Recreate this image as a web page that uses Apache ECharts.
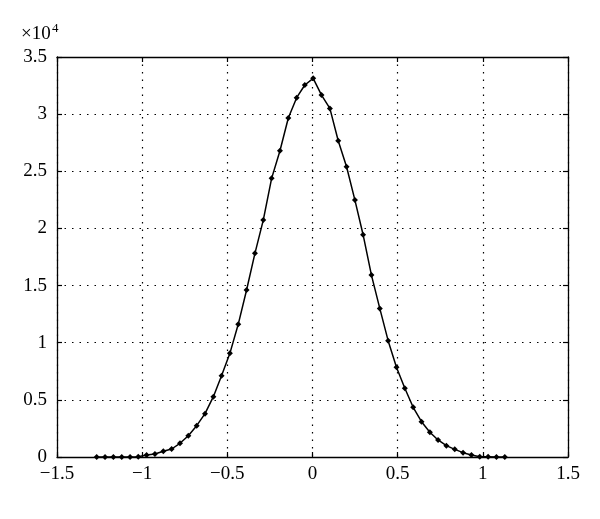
<!DOCTYPE html>
<html>
<head>
<meta charset="utf-8">
<script src="https://cdn.jsdelivr.net/npm/echarts@6/dist/echarts.min.js"></script>
<style>html,body{margin:0;padding:0;background:#fff}#c{width:600px;height:519px}</style>
</head>
<body>
<div id="c"></div>
<script>
// x positions of the points
const xValues = [-1.267,-1.218,-1.169,-1.120,-1.071,-1.023,-0.974,-0.925,-0.876,-0.827,
  -0.778,-0.729,-0.680,-0.631,-0.582,-0.534,-0.485,-0.436,-0.387,-0.338,
  -0.289,-0.240,-0.191,-0.142,-0.093,-0.045,0.004,0.053,0.102,0.151,
  0.200,0.249,0.297,0.346,0.395,0.444,0.493,0.542,0.591,0.640,
  0.689,0.737,0.786,0.835,0.884,0.933,0.982,1.031,1.080,1.129];
// counts (raw values)
const yValues = [0,0,0,0,0,30,180,260,500,700,
  1200,1860,2740,3790,5280,7110,9070,11610,14610,17820,
  20730,24380,26800,29660,31440,32550,33130,31670,30500,27670,
  25400,22480,19450,15920,13000,10180,7850,6010,4350,3090,
  2160,1490,990,670,380,180,30,30,0,0];
const xTicks = [-1.5,-1,-0.5,0,0.5,1,1.5];
const yTicks = [0,0.5,1,1.5,2,2.5,3,3.5];
const yScale = 1e4;

const font = '"Liberation Serif", "DejaVu Serif", serif';
const chart = echarts.init(document.getElementById('c'), null, {renderer:'canvas'});
const fmtMinus = v => String(v).replace('-', '\u2212');
const grid = {left:57, right:32, top:57, bottom:62};
const dotted = {show:true, lineStyle:{color:'#000', type:[1.5,6], width:1.2}};
const axisLineStyle = {show:true, onZero:false, lineStyle:{color:'#000', width:1.3}};
const tickStyle = {show:true, inside:true, length:5, lineStyle:{color:'#000', width:1.2}};
chart.setOption({
  animation:false,
  grid: grid,
  title:[
    {text:'\u00d710', left:21, top:25, padding:0,
     textStyle:{fontFamily:font, fontSize:19, fontWeight:'normal', color:'#000'}},
    {text:'4', left:52, top:22, padding:0,
     textStyle:{fontFamily:font, fontSize:13, fontWeight:'normal', color:'#000'}}
  ],
  xAxis:[{
    type:'value', min:xTicks[0], max:xTicks[xTicks.length-1], interval:0.5,
    axisLine:axisLineStyle, axisTick:tickStyle,
    axisLabel:{color:'#000', fontFamily:font, fontSize:19, margin:8, formatter:fmtMinus},
    splitLine:dotted
  },{
    type:'value', position:'top', min:xTicks[0], max:xTicks[xTicks.length-1], interval:0.5,
    axisLine:axisLineStyle, axisTick:tickStyle,
    axisLabel:{show:false}, splitLine:{show:false}
  }],
  yAxis:[{
    type:'value', min:0, max:yTicks[yTicks.length-1]*yScale, interval:0.5*yScale,
    axisLine:axisLineStyle, axisTick:tickStyle,
    axisLabel:{color:'#000', fontFamily:font, fontSize:19, margin:10,
      formatter: v => String(+(v/yScale).toFixed(1))},
    splitLine:dotted
  },{
    type:'value', position:'right', min:0, max:yTicks[yTicks.length-1]*yScale, interval:0.5*yScale,
    axisLine:axisLineStyle, axisTick:tickStyle,
    axisLabel:{show:false}, splitLine:{show:false}
  }],
  series:[{
    type:'line', xAxisIndex:0, yAxisIndex:0,
    data: xValues.map((x,i)=>[x, yValues[i]]),
    symbol:'diamond', symbolSize:6, showSymbol:true,
    lineStyle:{color:'#000', width:1.5},
    itemStyle:{color:'#000'}
  }]
});
</script>
</body>
</html>
